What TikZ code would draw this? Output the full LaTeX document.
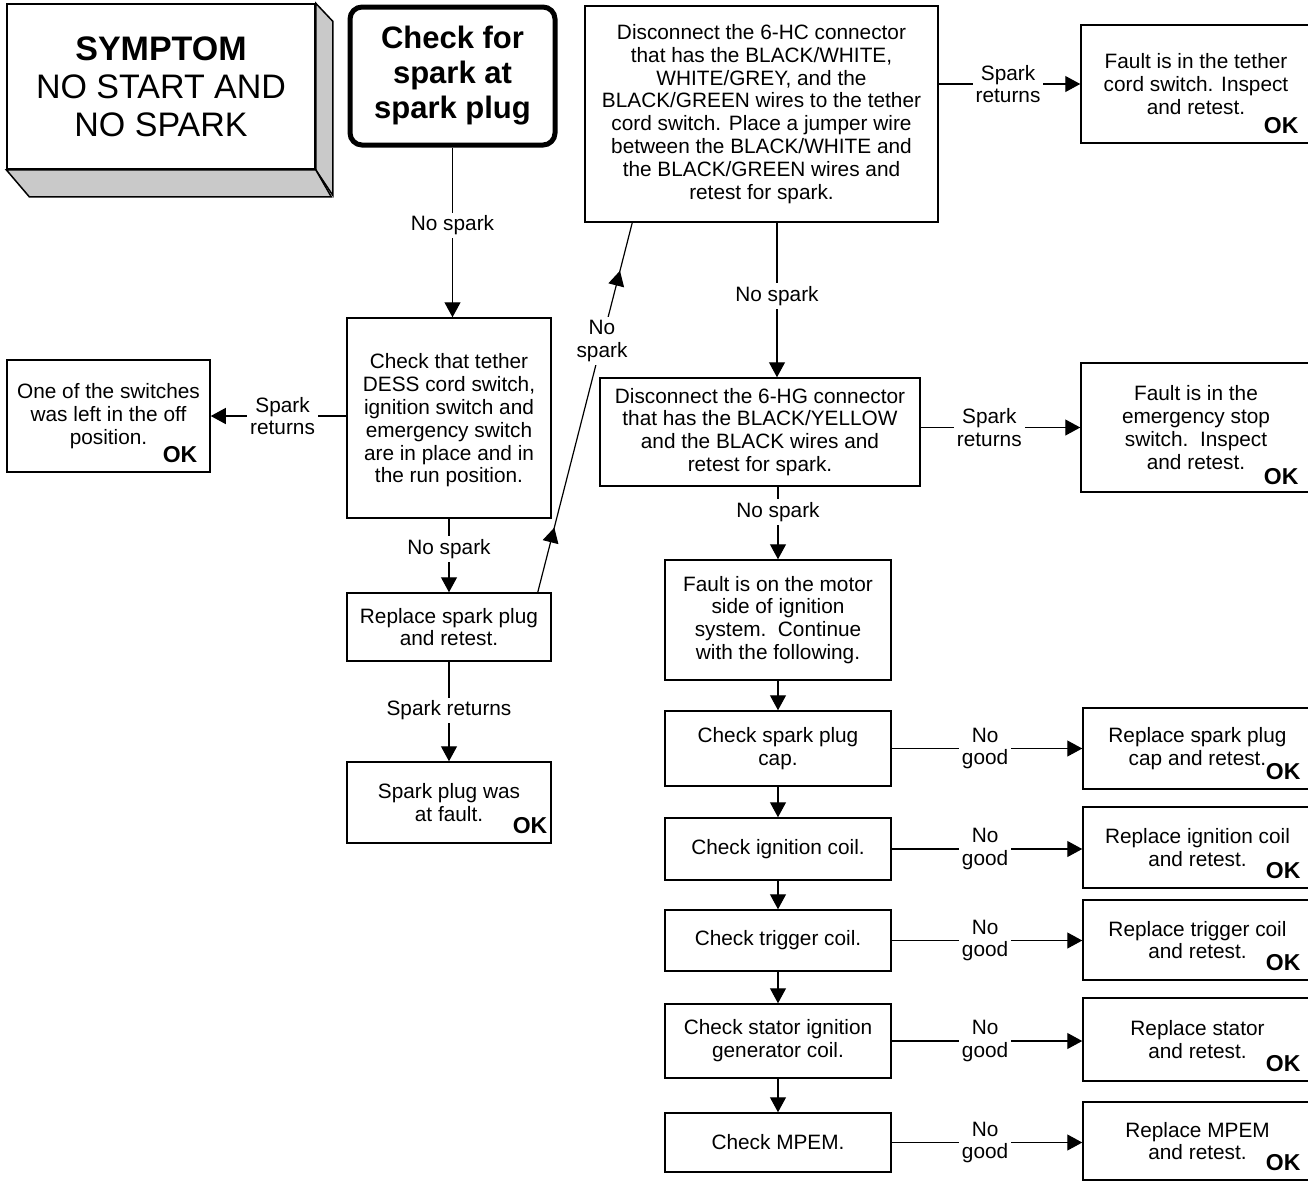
\documentclass[tikz,border=0pt]{standalone}
\usepackage{fontspec}
\setmainfont{Liberation Sans}
\usetikzlibrary{arrows.meta,decorations.markings}

\newcommand{\bodyfont}{\fontsize{10.4}{11.4}\selectfont}
\definecolor{shade}{gray}{0.79}

\begin{document}
\begin{tikzpicture}[
  x=0.5pt, y=-0.5pt,
  box/.style={draw, line width=0.75pt, align=center, inner sep=0pt, font=\bodyfont},
  lbl/.style={fill=white, align=center, inner sep=1.5pt, font=\bodyfont},
  okmark/.style={font=\bfseries\fontsize{11.5}{12}\selectfont, inner sep=0pt, anchor=south east},
  arr/.style={line width=0.6pt, -{Triangle[length=7.5pt,width=8pt]}},
  line/.style={line width=0.6pt}
  ]
  \useasboundingbox (0,0) rectangle (1308,1180);

  % symptom block
  \node[box, minimum width=154pt, minimum height=82.5pt,
        font=\fontsize{17}{19}\selectfont] (sym) at (161,86.5)
        {\textbf{SYMPTOM}\\NO START AND\\NO SPARK};
  \draw[line width=0.75pt, fill=shade] (sym.north east) -- ++(17,18) -- ++(0,174) -- (sym.south east) -- cycle;
  \draw[line width=0.75pt, fill=shade] (sym.south west) -- ++(23,27) -- ++(302,0) -- (sym.south east) -- cycle;

  \node[draw, line width=2.5pt, rounded corners=6pt, align=center, inner sep=0pt,
        minimum width=102.5pt, minimum height=69pt,
        font=\bfseries\fontsize{15.5}{17.5}\selectfont] (chk) at (452.5,76)
        {Check for\\spark at\\spark plug};

  % left column
  \node[box, minimum width=102pt, minimum height=100pt] (tet) at (449,418)
        {\\[-1.4pt]Check that tether\\DESS cord switch,\\ignition switch and\\emergency switch\\are in place and in\\the run position.};
  \node[box, minimum width=101.5pt, minimum height=56pt] (sw) at (108.5,416)
        {One of the switches\\was left in the off\\position.};
  \node[okmark] (ok-sw) at ([shift={(-13,-10)}]sw.south east) {OK};
  \node[box, minimum width=102pt, minimum height=34pt] (rp) at (449,627)
        {Replace spark plug\\and retest.};
  \node[box, minimum width=102pt, minimum height=40.5pt] (flt) at (449,802.5)
        {Spark plug was\\at fault.};
  \node[okmark] (ok-flt) at ([shift={(-4,-10)}]flt.south east) {OK};

  % connectors
  \draw[arr] (chk.south) -- (chk.south |- tet.north) node[lbl, pos=0.46] (l1) {No spark};
  \draw[arr] (tet.west |- sw.east) -- (sw.east) node[lbl, pos=0.47] (l2) {Spark\\returns};
  \draw[arr] (tet.south) -- (tet.south |- rp.north) node[lbl, pos=0.41] (l3) {No spark};
  \draw[arr] (rp.south) -- (rp.south |- flt.north) node[lbl, pos=0.49] (l4) {Spark returns};

  % upper right
  \node[box, minimum width=176.5pt, minimum height=108pt] (hc) at (761.5,114)
        {Disconnect the 6-HC connector\\that has the BLACK/WHITE,\\WHITE/GREY, and the\\BLACK/GREEN wires to the tether\\cord switch. Place a jumper wire\\between the BLACK/WHITE and\\the BLACK/GREEN wires and\\retest for spark.};
  \node[box, minimum width=115pt, minimum height=59pt] (ft) at (1196,84)
        {Fault is in the tether\\cord switch. Inspect\\and retest.};
  \node[okmark] (ok-ft) at ([shift={(-13,-10)}]ft.south east) {OK};
  \node[box, minimum width=160pt, minimum height=54pt] (hg) at (760,432)
        {Disconnect the 6-HG connector\\that has the BLACK/YELLOW\\and the BLACK wires and\\retest for spark.};
  \node[box, minimum width=115pt, minimum height=64.5pt] (fe) at (1196,427.5)
        {Fault is in the\\emergency stop\\switch.\ \ Inspect\\and retest.};
  \node[okmark] (ok-fe) at ([shift={(-13,-8)}]fe.south east) {OK};

  \draw[line, postaction={decorate}, decoration={markings,
        mark=at position 0.175 with {\arrow{Triangle[length=7.5pt,width=8pt]}},
        mark=at position 0.87 with {\arrow{Triangle[length=7.5pt,width=8pt]}}}]
        ([xshift=-7pt]rp.north east) -- ([xshift=24pt]hc.south west)
        node[lbl, pos=0.68] (l5) {No\\spark};
  \draw[arr] (ft.west -| hc.east) -- (ft.west) node[lbl, pos=0.49] (l6) {Spark\\returns};
  \draw[arr] (hg.north -| 777,0) ++(0,-156) -- (hg.north -| 777,0) node[lbl, pos=0.48] (l7) {No spark};
  \draw[arr] (fe.west -| hg.east) -- (fe.west) node[lbl, pos=0.43] (l8) {Spark\\returns};

  % motor side
  \node[box, minimum width=113pt, minimum height=60pt] (mot) at (778,620)
        {Fault is on the motor\\side of ignition\\system.\ \ Continue\\with the following.};
  \node[box, minimum width=113pt, minimum height=37.5pt] (cap) at (778,748.5) {Check spark plug\\cap.};
  \node[box, minimum width=113pt, minimum height=31pt] (ign) at (778,849) {Check ignition coil.};
  \node[box, minimum width=113pt, minimum height=30.5pt] (trg) at (778,940.5) {Check trigger coil.};
  \node[box, minimum width=113pt, minimum height=37pt] (sta) at (778,1041) {Check stator ignition\\generator coil.};
  \node[box, minimum width=113pt, minimum height=29.5pt] (mpm) at (778,1142.5) {Check MPEM.};

  \node[box, minimum width=114.5pt, minimum height=40.5pt] (rcap) at (1197.5,748.5) {Replace spark plug\\cap and retest.};
  \node[box, minimum width=114.5pt, minimum height=40.5pt] (rign) at (1197.5,847.5) {Replace ignition coil\\and retest.};
  \node[box, minimum width=114.5pt, minimum height=40pt] (rtrg) at (1197.5,940) {Replace trigger coil\\and retest.};
  \node[box, minimum width=114.5pt, minimum height=41.5pt] (rsta) at (1197.5,1039.5) {Replace stator\\and retest.};
  \node[box, minimum width=114.5pt, minimum height=39pt] (rmpm) at (1197.5,1141) {Replace MPEM\\and retest.};
  \foreach \r in {rcap,rign,rtrg,rsta,rmpm}
    \node[okmark] (ok-\r) at ([shift={(-12,-10)}]\r.south east) {OK};

  \draw[arr] (hg.south -| mot.north) -- (mot.north) node[lbl, pos=0.35] (l9) {No spark};
  \draw[arr] (mot.south) -- (cap.north);
  \draw[arr] (cap.south) -- (ign.north);
  \draw[arr] (ign.south) -- (trg.north);
  \draw[arr] (trg.south) -- (sta.north);
  \draw[arr] (sta.south) -- (mpm.north);
  \foreach \a/\b in {cap/rcap,ign/rign,trg/rtrg,sta/rsta,mpm/rmpm}
    \draw[arr] (\a.east) -- (\a.east -| \b.west) node[lbl, pos=0.49] {No\\good};
\end{tikzpicture}
\end{document}
